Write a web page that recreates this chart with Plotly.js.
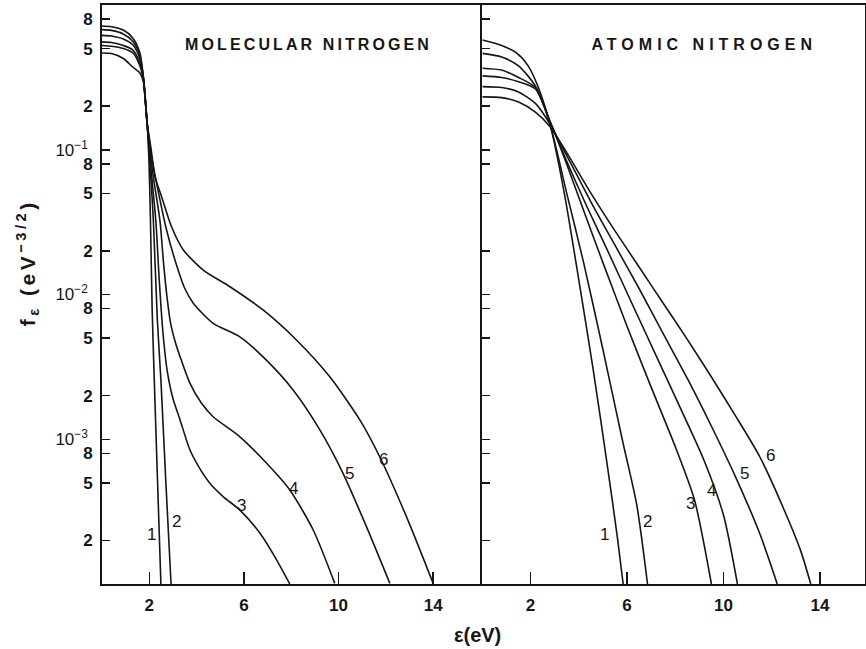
<!DOCTYPE html>
<html>
<head>
<meta charset="utf-8">
<script src="https://cdn.plot.ly/plotly-3.0.1.min.js"></script>
<style>
html,body{margin:0;padding:0;background:#fff;}
#chart{width:866px;height:649px;}
</style>
</head>
<body>
<div id="chart"></div>
<script>
// ---------- DATA ----------
// Molecular nitrogen (left panel): energy eV and f_eps values, curves 1..6
const molX1 = [0,0.4,0.9,1.3,1.6,1.75,1.9,1.98,2.05,2.12,2.21,2.35,2.49];
const molY1 = [0.716,0.708,0.671,0.592,0.468,0.316,0.158,0.0891,0.0316,0.00794,0.00257,0.0005,0.0001];
const molX2 = [0,0.4,0.9,1.3,1.6,1.75,1.9,2.0,2.17,2.34,2.49,2.7,2.92];
const molY2 = [0.676,0.668,0.631,0.562,0.447,0.316,0.158,0.0955,0.0327,0.00667,0.00257,0.0005,0.0001];
const molX3 = [0,0.4,0.9,1.3,1.6,1.75,1.9,2.0,2.14,2.28,2.42,2.57,2.75,3.0,3.3,3.72,4.2,4.56,5.12,5.83,6.68,7.38,7.94];
const molY3 = [0.617,0.610,0.582,0.531,0.427,0.316,0.158,0.1,0.0562,0.0316,0.0126,0.00562,0.00302,0.00191,0.00136,0.000843,0.000603,0.000497,0.000402,0.000324,0.000224,0.000147,0.0001];
const molX4 = [0,0.4,0.9,1.3,1.6,1.75,1.9,2.02,2.2,2.45,2.6,2.75,2.9,3.1,3.3,3.72,4.2,4.7,5.83,6.96,7.94,8.93,9.84];
const molY4 = [0.556,0.550,0.525,0.490,0.398,0.309,0.158,0.1,0.0603,0.0324,0.0166,0.00955,0.00631,0.00468,0.00372,0.00243,0.00178,0.00143,0.00104,0.000682,0.000446,0.000236,0.000101];
const molX5 = [0,0.4,0.9,1.3,1.6,1.75,1.9,2.05,2.31,2.73,3.16,3.5,3.86,4.7,5.83,6.95,8.08,9.21,10.19,11.18,12.17];
const molY5 = [0.525,0.519,0.501,0.468,0.380,0.302,0.158,0.1,0.0586,0.0279,0.0158,0.011,0.00871,0.00632,0.0051,0.00352,0.00219,0.00116,0.000582,0.000249,0.000101];
const molX6 = [0,0.4,0.9,1.3,1.6,1.75,1.9,2.08,2.24,2.52,2.94,3.44,4.28,5.41,6.81,8.22,9.63,10.9,11.74,12.87,14.0];
const molY6 = [0.466,0.462,0.427,0.373,0.339,0.295,0.158,0.1,0.0652,0.0474,0.0294,0.0203,0.01476,0.01132,0.00782,0.00485,0.0027,0.00136,0.000757,0.000292,0.000101];

// Atomic nitrogen (right panel)
const atX1 = [0,0.8,1.4,1.9,2.3,2.8,3.4,4.0,4.6,5.2,5.6,5.84];
const atY1 = [0.573,0.525,0.468,0.380,0.275,0.151,0.050,0.0126,0.0030,0.00063,0.00021,0.0001];
const atX2 = [0,0.8,1.5,2.2,2.8,3.5,4.2,5.0,5.8,6.4,6.85];
const atY2 = [0.463,0.437,0.380,0.275,0.151,0.050,0.0166,0.00417,0.0010,0.000355,0.0001];
const atX3 = [0,0.8,1.5,2.2,2.8,3.5,4.2,5.0,6.0,7.0,8.0,8.8,9.5];
const atY3 = [0.366,0.355,0.316,0.269,0.158,0.0794,0.038,0.0166,0.00603,0.00229,0.00089,0.00038,0.0001];
const atX4 = [0,0.8,1.5,2.2,2.8,3.5,4.3,5.2,6.2,7.2,8.2,9.2,10.0,10.58];
const atY4 = [0.324,0.316,0.295,0.263,0.158,0.0832,0.0417,0.020,0.0087,0.0038,0.00166,0.00071,0.0003,0.0001];
const atX5 = [0,0.8,1.5,2.2,2.8,3.5,4.5,5.5,6.5,7.5,8.5,9.5,10.5,11.5,12.23];
const atY5 = [0.273,0.269,0.251,0.209,0.151,0.0912,0.0437,0.0219,0.011,0.00537,0.00263,0.00123,0.00055,0.000224,0.0001];
const atX6 = [0,0.8,1.5,2.2,2.8,3.5,4.5,5.5,6.5,7.5,8.5,9.5,10.5,11.5,12.5,13.2,13.62];
const atY6 = [0.232,0.229,0.214,0.182,0.145,0.0955,0.0501,0.0275,0.0155,0.0087,0.0049,0.00269,0.00145,0.00076,0.00033,0.00017,0.0001];

// Curve number labels (x in eV, y in f units)
const curveNames = ['1','2','3','4','5','6'];
const molLabelX = [2.10,3.13,5.90,8.08,10.48,11.88];
const molLabelY = [0.00022,0.00027,0.00035,0.00046,0.00058,0.00073];
const atLabelX = [5.07,6.83,8.63,9.51,10.89,11.93];
const atLabelY = [0.00022,0.00027,0.00036,0.00044,0.00058,0.00077];

// Axis ticks
const xTickVals = [2,6,10,14];
const yTickVals = [0.8,0.5,0.2,0.1,0.08,0.05,0.02,0.01,0.008,0.005,0.002,0.001,0.0008,0.0005,0.0002];
const NB = '\u00A0';
const yTickText = ['<b>8</b>','<b>5</b>','<b>2</b>','10<sup>−1</sup>' + NB,'<b>8</b>','<b>5</b>','<b>2</b>','10<sup>−2</sup>' + NB,'<b>8</b>','<b>5</b>','<b>2</b>','10<sup>−3</sup>' + NB,'<b>8</b>','<b>5</b>','<b>2</b>'];
const yMajorVals = [0.1,0.01,0.001];

const panelTitles = ['MOLECULAR NITROGEN','ATOMIC NITROGEN'];
const xTitle = 'ε(eV)';
const yTitle = 'f<sub>ε</sub> (eV<sup>−3/2</sup>)';

// ---------- PLOT ----------
const ink = '#161616';
const molX = [molX1,molX2,molX3,molX4,molX5,molX6];
const molY = [molY1,molY2,molY3,molY4,molY5,molY6];
const atX = [atX1,atX2,atX3,atX4,atX5,atX6];
const atY = [atY1,atY2,atY3,atY4,atY5,atY6];

const lineStyle = {color: ink, width: 1.6, shape: 'spline', smoothing: 0.7};
const traces = [];
for (let i = 0; i < 6; i++) {
  traces.push({x: molX[i], y: molY[i], xaxis: 'x', yaxis: 'y', mode: 'lines', line: lineStyle, hoverinfo: 'skip', name: 'N2 ' + curveNames[i]});
}
for (let i = 0; i < 6; i++) {
  traces.push({x: atX[i], y: atY[i], xaxis: 'x2', yaxis: 'y2', mode: 'lines', line: lineStyle, hoverinfo: 'skip', name: 'N ' + curveNames[i]});
}

const split = 0.4985;
const font = 'Liberation Sans, Arial, Helvetica, sans-serif';
const xBase = {
  showline: true, linewidth: 2, linecolor: ink, mirror: true,
  ticks: 'inside', ticklen: 12, tickwidth: 1.5, tickcolor: ink,
  tickmode: 'array', tickvals: xTickVals, ticktext: xTickVals.map(v => '<b>' + v + '</b>'),
  tickfont: {size: 17, color: ink, family: font}, ticklabelstandoff: 5,
  showgrid: false, zeroline: false, fixedrange: true
};
const yBase = {
  type: 'log', range: [-4, 0],
  showline: true, linewidth: 2, linecolor: ink,
  ticks: 'inside', ticklen: 8, tickwidth: 1.5, tickcolor: ink,
  tickmode: 'array', tickvals: yTickVals, ticktext: yTickText,
  tickfont: {size: 17, color: ink, family: font}, ticklabelstandoff: 4,
  showgrid: false, zeroline: false, fixedrange: true
};
const yMajor = {
  type: 'log', range: [-4, 0], showline: false, showgrid: false, zeroline: false,
  ticks: 'inside', ticklen: 13, tickwidth: 1.5, tickcolor: ink,
  tickmode: 'array', tickvals: yMajorVals, showticklabels: false, fixedrange: true
};

const annotations = [];
for (let i = 0; i < 6; i++) {
  annotations.push({x: molLabelX[i], y: Math.log10(molLabelY[i]), xref: 'x', yref: 'y', text: curveNames[i], showarrow: false,
    font: {size: 17, color: ink, family: font}, xanchor: 'center', yanchor: 'middle'});
  annotations.push({x: atLabelX[i], y: Math.log10(atLabelY[i]), xref: 'x2', yref: 'y2', text: curveNames[i], showarrow: false,
    font: {size: 17, color: ink, family: font}, xanchor: 'center', yanchor: 'middle'});
}
annotations.push({x: (309 - 102) / 764, y: (584 - 44) / 579, xref: 'paper', yref: 'paper', text: '<b>' + panelTitles[0] + '</b>',
  showarrow: false, xanchor: 'center', yanchor: 'middle', font: {size: 16, color: ink, family: font}});
annotations.push({x: (705 - 102) / 764, y: (584 - 44) / 579, xref: 'paper', yref: 'paper', text: '<b>' + panelTitles[1] + '</b>',
  showarrow: false, xanchor: 'center', yanchor: 'middle', font: {size: 16, color: ink, family: font}});
annotations.push({x: (478 - 102) / 764, y: (584 - 635) / 579, xref: 'paper', yref: 'paper', text: '<b>' + xTitle + '</b>',
  showarrow: false, xanchor: 'center', yanchor: 'middle', font: {size: 20, color: ink, family: font}});
annotations.push({x: (27 - 102) / 764, y: (584 - 263) / 579, xref: 'paper', yref: 'paper', text: '<b>' + yTitle + '</b>',
  showarrow: false, textangle: -90, xanchor: 'center', yanchor: 'middle', font: {size: 21, color: ink, family: font}});

const layout = {
  width: 866, height: 649,
  margin: {l: 102, r: 1, t: 5, b: 65},
  paper_bgcolor: '#ffffff', plot_bgcolor: '#ffffff',
  showlegend: false,
  font: {family: font, color: ink},
  xaxis: Object.assign({}, xBase, {domain: [0, split], range: [0, 16.08], anchor: 'y'}),
  xaxis2: Object.assign({}, xBase, {domain: [split, 1], range: [0, 15.87], anchor: 'y2'}),
  yaxis: Object.assign({}, yBase, {anchor: 'x', mirror: false}),
  yaxis2: Object.assign({}, yBase, {anchor: 'x2', showticklabels: false, mirror: true}),
  yaxis3: Object.assign({}, yMajor, {anchor: 'x', overlaying: 'y'}),
  yaxis4: Object.assign({}, yMajor, {anchor: 'x2', overlaying: 'y2'}),
  annotations: annotations
};

Plotly.newPlot('chart', traces, layout, {staticPlot: true, displayModeBar: false}).then(function () {
  document.querySelectorAll('.annotation-text').forEach(function (t) {
    const s = t.textContent;
    if (s.indexOf('MOLECULAR') >= 0) t.style.letterSpacing = '3.1px';
    else if (s.indexOf('ATOMIC') >= 0) t.style.letterSpacing = '5px';
    else if (s.indexOf('eV') >= 0 && s.indexOf('f') === 0) t.style.letterSpacing = '3.5px';
  });
});
</script>
</body>
</html>
